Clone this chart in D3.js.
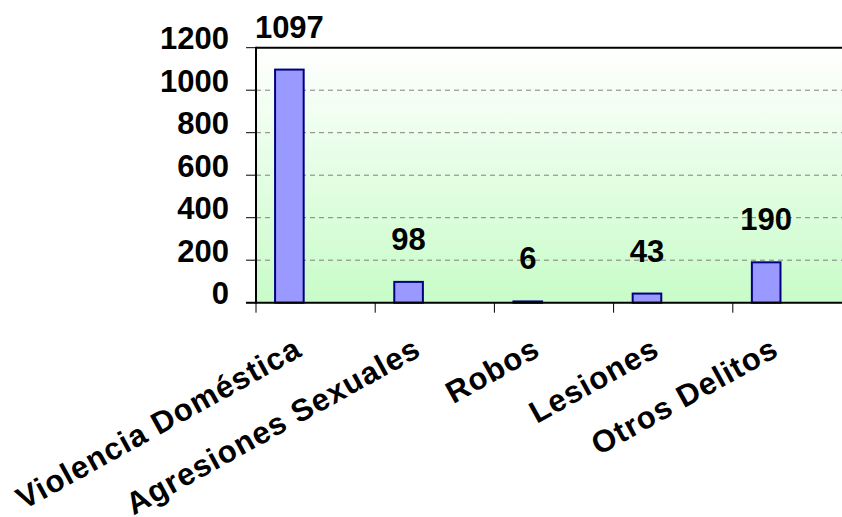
<!DOCTYPE html>
<html>
<head>
<meta charset="utf-8">
<script src="https://cdn.jsdelivr.net/npm/d3@7"></script>
<style>
  html, body { margin: 0; padding: 0; background: #fff; }
  svg { display: block; }
</style>
</head>
<body>
<div id="chart"></div>
<script>
(function () {
  "use strict";

  var FONT = "'Liberation Sans', Arial, sans-serif";
  var FS = "31px";

  // data
  var categories = ["Violencia Doméstica", "Agresiones Sexuales", "Robos", "Lesiones", "Otros Delitos"];
  var values = [1097, 98, 6, 43, 190];
  var yTicks = [0, 200, 400, 600, 800, 1000, 1200];

  var W = 842, H = 517;
  var plot = { left: 256, top: 47.7, bottom: 302.7, band: 119.2 };

  var svg = d3.select("#chart").append("svg")
    .attr("width", W).attr("height", H)
    .style("background", "#fff");

  var x = d3.scaleBand()
    .domain(categories)
    .range([plot.left, plot.left + plot.band * categories.length])
    .padding(0);

  var y = d3.scaleLinear().domain([0, 1200]).range([plot.bottom, plot.top]);

  // plot area gradient
  var defs = svg.append("defs");
  var grad = defs.append("linearGradient").attr("id", "bg-grad")
    .attr("x1", 0).attr("y1", 0).attr("x2", 0).attr("y2", 1);
  grad.append("stop").attr("offset", "0%").attr("stop-color", "#ffffff");
  grad.append("stop").attr("offset", "100%").attr("stop-color", "#c8fcc8");

  svg.append("rect")
    .attr("x", plot.left).attr("y", plot.top)
    .attr("width", W - plot.left).attr("height", plot.bottom - plot.top)
    .attr("fill", "url(#bg-grad)");

  // gridlines
  yTicks.filter(function (v) { return v > 0 && v < 1200; }).forEach(function (v) {
    svg.append("line")
      .attr("x1", plot.left).attr("x2", W)
      .attr("y1", y(v)).attr("y2", y(v))
      .attr("stroke", "#808080").attr("stroke-width", 1)
      .attr("stroke-dasharray", "5,4");
  });

  // top border
  svg.append("line")
    .attr("x1", plot.left).attr("x2", W)
    .attr("y1", y(1200)).attr("y2", y(1200))
    .attr("stroke", "#000").attr("stroke-width", 2);

  // bars (occupy a slot inside each band, like Excel)
  var barOff = 0.16, barW = 0.24;
  svg.selectAll("rect.bar")
    .data(values)
    .enter().append("rect")
    .attr("class", "bar")
    .attr("x", function (d, i) { return x(categories[i]) + x.bandwidth() * barOff; })
    .attr("y", function (d) { return y(d); })
    .attr("width", x.bandwidth() * barW)
    .attr("height", function (d) { return y(0) - y(d); })
    .attr("fill", "#9999ff")
    .attr("stroke", "#000080").attr("stroke-width", 2);

  // value labels
  svg.selectAll("text.val")
    .data(values)
    .enter().append("text")
    .attr("class", "val")
    .attr("x", function (d, i) { return x(categories[i]) + x.bandwidth() * (barOff + barW / 2); })
    .attr("y", function (d) { return y(d) - 32; })
    .attr("text-anchor", "middle")
    .attr("font-family", FONT).attr("font-size", FS).attr("font-weight", "bold")
    .attr("fill", "#000")
    .text(function (d) { return d; });

  // y axis
  svg.append("line")
    .attr("x1", plot.left).attr("x2", plot.left)
    .attr("y1", plot.top - 1).attr("y2", plot.bottom + 1)
    .attr("stroke", "#000").attr("stroke-width", 2);
  yTicks.forEach(function (v) {
    svg.append("line")
      .attr("x1", plot.left - 10).attr("x2", plot.left)
      .attr("y1", y(v)).attr("y2", y(v))
      .attr("stroke", "#000").attr("stroke-width", 1);
    svg.append("text")
      .attr("x", 229).attr("y", y(v) + 1.5)
      .attr("text-anchor", "end")
      .attr("font-family", FONT).attr("font-size", FS).attr("font-weight", "bold")
      .attr("fill", "#000")
      .text(v);
  });

  // x axis
  svg.append("line")
    .attr("x1", plot.left - 10).attr("x2", W)
    .attr("y1", plot.bottom).attr("y2", plot.bottom)
    .attr("stroke", "#000").attr("stroke-width", 2);
  categories.forEach(function (c) {
    svg.append("line")
      .attr("x1", x(c)).attr("x2", x(c))
      .attr("y1", plot.bottom).attr("y2", plot.bottom + 10)
      .attr("stroke", "#000").attr("stroke-width", 1);
  });

  // rotated category labels
  categories.forEach(function (c) {
    var ax = x(c) + x.bandwidth() / 2 - 12, ay = 355;
    svg.append("text")
      .attr("transform", "translate(" + ax + "," + ay + ") rotate(-29)")
      .attr("text-anchor", "end")
      .attr("font-family", FONT).attr("font-size", FS).attr("font-weight", "bold")
      .attr("letter-spacing", "1px")
      .attr("fill", "#000")
      .text(c);
  });
})();
</script>
</body>
</html>
